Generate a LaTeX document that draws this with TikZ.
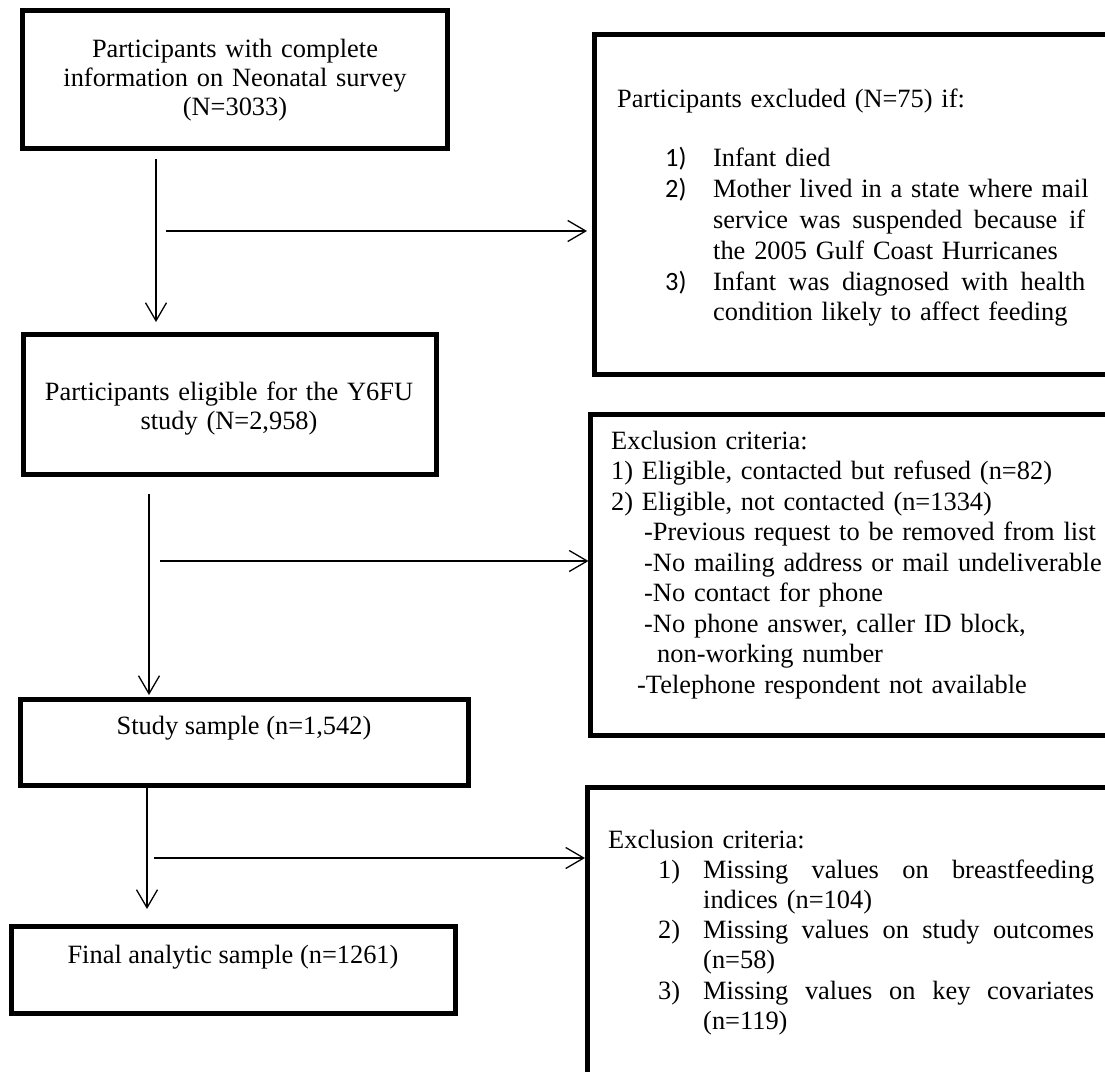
\documentclass[tikz,border=0pt]{standalone}
\usepackage{fontspec}
\setmainfont{Liberation Serif}
\newfontfamily\calfont{Carlito}
\usetikzlibrary{arrows.meta}
\newcommand{\jl}[2]{\hbox to #1{#2}}
\newcommand{\nr}[2]{\makebox[#1][l]{#2}}

\begin{document}
\begin{tikzpicture}[x=1pt,y=-1pt,
        box/.style={draw, line width=5pt, anchor=north west, inner sep=0pt, outer sep=0pt},
        txt/.style={inner sep=0pt, anchor=base, align=center, font=\fontsize{26.4}{29}\selectfont},
        lst/.style={inner sep=0pt, anchor=base west, text width=530pt, align=left, font=\fontsize{26.4}{30.5}\selectfont},
        flow/.style={line width=1.3pt, -{Straight Barb[length=18pt,width=21pt]}}]
            \useasboundingbox (0,0) rectangle (1105,1071);
            \clip (0,0) rectangle (1105,1071);
            \node[box, minimum width=425pt, minimum height=138pt] (neo) at (22.5,10.5) {};
            \node[box, minimum width=413pt, minimum height=140pt] (elig) at (23.5,334.5) {};
            \node[box, minimum width=448pt, minimum height=86pt] (study) at (20.5,699.5) {};
            \node[box, minimum width=444pt, minimum height=87pt] (final) at (11.5,926.5) {};
            \node[box, minimum width=560pt, minimum height=340pt] (died) at (594.5,34.5) {};
            \node[box, minimum width=560pt, minimum height=321pt] (refused) at (590.5,414.5) {};
            \node[box, minimum width=560pt, minimum height=330pt] (missing) at (587.5,787.5) {};
            \node[txt, text width=425pt] (neotxt) at (235,57) {Participants with complete\\information on Neonatal survey\\(N=3033)};
            \node[txt, text width=413pt] (eligtxt) at (229,400) {Participants eligible for the Y6FU\\study (N=2,958)};
            \node[txt] (studytxt) at (244,734) {Study sample (n=1,542)};
            \node[txt] (finaltxt) at (233,963) {Final analytic sample (n=1261)};
            \node[lst, font=\fontsize{26.4}{30.8}\selectfont] (diedtxt) at (617,107) {Participants excluded (N=75) if:\\[29pt]
                \hspace*{48pt}\nr{48pt}{\calfont 1)}Infant died\\
                \hspace*{48pt}\nr{48pt}{\calfont 2)}\jl{372pt}{Mother \hfil lived \hfil in \hfil a \hfil state \hfil where \hfil mail}\\
                \hspace*{96pt}\jl{372pt}{service \hfil was \hfil suspended \hfil because \hfil if}\\
                \hspace*{96pt}the 2005 Gulf Coast Hurricanes\\
                \hspace*{48pt}\nr{48pt}{\calfont 3)}\jl{372pt}{Infant \hfil was \hfil diagnosed \hfil with \hfil health}\\
                \hspace*{96pt}condition likely to affect feeding};
            \node[lst] (refusedtxt) at (611,449) {Exclusion criteria:\\
                1) Eligible, contacted but refused (n=82)\\
                2) Eligible, not contacted (n=1334)\\
                \hspace*{33pt}-Previous request to be removed from list\\
                \hspace*{33pt}-No mailing address or mail undeliverable\\
                \hspace*{33pt}-No contact for phone\\
                \hspace*{33pt}-No phone answer, caller ID block,\\
                \hspace*{46pt}non-working number\\
                \hspace*{26pt}-Telephone respondent not available};
            \node[lst, font=\fontsize{26.4}{30.2}\selectfont] (missingtxt) at (608,848) {Exclusion criteria:\\
                \hspace*{50pt}\nr{45pt}{1)}\jl{391pt}{Missing \hfil values \hfil on \hfil breastfeeding}\\
                \hspace*{95pt}indices (n=104)\\
                \hspace*{50pt}\nr{45pt}{2)}\jl{391pt}{Missing \hfil values \hfil on \hfil study \hfil outcomes}\\
                \hspace*{95pt}(n=58)\\
                \hspace*{50pt}\nr{45pt}{3)}\jl{391pt}{Missing \hfil values \hfil on \hfil key \hfil covariates}\\
                \hspace*{95pt}(n=119)};
            \coordinate (down1) at (156,159);
            \coordinate (side1) at (166,231);
            \coordinate (down2) at (149,494);
            \coordinate (side2) at (160,561);
            \coordinate (down3) at (147,786);
            \coordinate (side3) at (154,858);
            \draw[flow, shorten >=12.5pt] (down1) -- (down1 |- elig.north);
            \draw[flow, shorten >=7.5pt] (side1) -- (side1 -| died.west);
            \draw[flow, shorten >=4.5pt] (down2) -- (down2 |- study.north);
            \draw[flow, shorten >=2pt] (side2) -- (side2 -| refused.west);
            \draw[flow, shorten >=17.5pt] (down3) -- (down3 |- final.north);
            \draw[flow, shorten >=2.5pt] (side3) -- (side3 -| missing.west);
        \end{tikzpicture}
\end{document}
